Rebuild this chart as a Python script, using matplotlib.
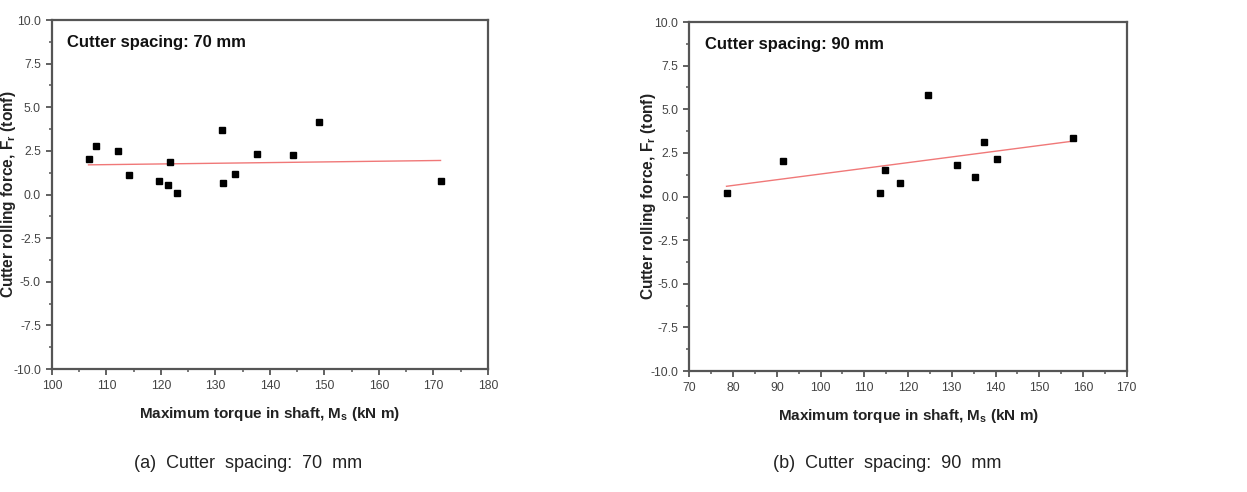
import numpy as np
import matplotlib
matplotlib.use("Agg")
import matplotlib.pyplot as plt
from matplotlib.ticker import MultipleLocator, FormatStrFormatter

plt.rcParams['font.family'] = ['Liberation Sans', 'DejaVu Sans']
plt.rcParams['mathtext.fontset'] = 'custom'
plt.rcParams['mathtext.rm'] = 'Liberation Sans'
plt.rcParams['mathtext.bf'] = 'Liberation Sans:bold'

# Data: cutter spacing 70 mm
torque_70 = [106.7, 108.0, 112.2, 114.1, 119.7, 121.2, 121.7, 123.0, 131.2, 131.4,
             133.5, 137.7, 144.3, 149.0, 171.3]
force_70 = [2.02, 2.77, 2.48, 1.11, 0.76, 0.55, 1.87, 0.08, 3.72, 0.67,
            1.20, 2.35, 2.29, 4.13, 0.76]

# Data: cutter spacing 90 mm
torque_90 = [78.5, 91.3, 113.6, 114.8, 118.2, 124.6, 131.1, 135.3, 137.3, 140.3, 157.8]
force_90 = [0.21, 2.01, 0.23, 1.53, 0.75, 5.83, 1.78, 1.11, 3.15, 2.14, 3.38]

panel_titles = ["Cutter spacing: 70 mm", "Cutter spacing: 90 mm"]
captions = ["(a)  Cutter  spacing:  70  mm", "(b)  Cutter  spacing:  90  mm"]
xlims = [(100, 180), (70, 170)]
ylim = (-10, 10)
xlabel = r"Maximum torque in shaft, $\mathbf{M_s}$ (kN m)"
ylabel = r"Cutter rolling force, $\mathbf{F_r}$ (tonf)"

fig = plt.figure(figsize=(12.47, 4.92), dpi=100)
positions = [[0.0417, 0.25, 0.3496, 0.7093], [0.5528, 0.2459, 0.3508, 0.7093]]
datasets = [(torque_70, force_70), (torque_90, force_90)]
caption_x = [248 / 1247, 887 / 1247]
ylabel_x = [-0.077, -0.072]

spine_col = '#555555'
for i, (pos, (xs, ys)) in enumerate(zip(positions, datasets)):
    ax = fig.add_axes(pos)
    xs = np.array(xs); ys = np.array(ys)
    slope, icpt = np.polyfit(xs, ys, 1)
    xf = np.array([xs.min(), xs.max()])
    ax.plot(xf, slope * xf + icpt, color='#f07878', lw=1.0, zorder=2)
    ax.plot(xs, ys, 's', color='black', markersize=4.9, zorder=3)
    ax.set_xlim(*xlims[i])
    ax.set_ylim(*ylim)
    ax.xaxis.set_major_locator(MultipleLocator(10))
    ax.xaxis.set_minor_locator(MultipleLocator(5))
    ax.yaxis.set_major_locator(MultipleLocator(2.5))
    ax.yaxis.set_minor_locator(MultipleLocator(1.25))
    ax.yaxis.set_major_formatter(FormatStrFormatter('%.1f'))
    for s in ax.spines.values():
        s.set_color(spine_col)
        s.set_linewidth(1.6)
    ax.tick_params(which='both', direction='out', colors=spine_col, labelcolor='#444444',
                   top=False, right=False)
    ax.tick_params(which='major', length=4, width=1.3, labelsize=8.8, pad=4)
    ax.tick_params(which='minor', length=2.5, width=1.1)
    ax.set_xlabel(xlabel, fontsize=11, fontweight='bold', color='#222222', labelpad=9)
    ax.set_ylabel(ylabel, fontsize=11.2, fontweight='bold', color='#222222')
    ax.yaxis.set_label_coords(ylabel_x[i], 0.5)
    ax.text(0.035, 0.935, panel_titles[i], transform=ax.transAxes, fontsize=12,
            fontweight='bold', color='#111111', va='center', ha='left')
    fig.text(caption_x[i], 1 - 463 / 492, captions[i], fontsize=13, color='#222222',
             ha='center', va='center')

fig.savefig('out.png', dpi=100)
